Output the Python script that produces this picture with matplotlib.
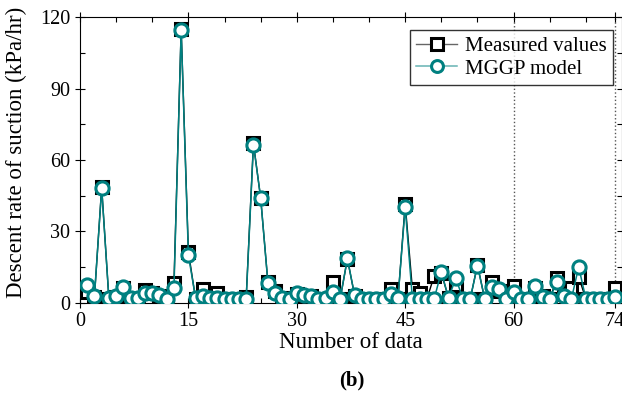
import matplotlib
matplotlib.use('Agg')
import matplotlib.pyplot as plt
from matplotlib.ticker import FixedLocator, MultipleLocator

plt.rcParams['font.family'] = ['Liberation Serif', 'DejaVu Serif']

# data number 1..74 (training 1-60, testing 61-74)
n_data = list(range(1, 75))

measured = [4.6, 2.5, 48.5, 1.5, 2.5, 6.0, 1.5, 1.5, 5.3, 4.0,
            3.0, 1.5, 8.1, 115.0, 21.4, 1.5, 5.6, 2.0, 4.0, 1.5,
            1.5, 1.5, 2.5, 67.0, 44.0, 8.6, 5.0, 2.0, 1.5, 3.5,
            3.0, 3.0, 1.5, 1.5, 8.8, 1.5, 18.5, 3.0, 1.5, 1.5,
            1.5, 1.5, 5.6, 1.5, 41.5, 5.6, 4.0, 1.5, 11.2, 12.5,
            2.0, 7.4, 1.5, 1.5, 16.0, 1.5, 8.8, 5.0, 1.5, 7.0,
            1.5, 1.5, 6.0, 3.0, 1.5, 10.2, 3.5, 6.0, 11.0, 1.5,
            1.5, 1.5, 1.5, 6.0]

mggp = [7.4, 2.8, 48.1, 1.8, 2.8, 6.5, 1.8, 1.8, 3.9, 3.9,
        3.2, 1.6, 6.0, 114.6, 20.0, 1.8, 3.0, 2.0, 2.0, 1.6,
        1.6, 1.6, 1.6, 66.5, 44.1, 8.4, 3.9, 2.1, 1.6, 3.9,
        3.1, 3.0, 1.6, 1.8, 4.6, 1.6, 18.6, 3.1, 1.7, 1.7,
        1.7, 1.7, 3.5, 1.8, 40.1, 1.5, 1.5, 1.5, 1.5, 13.0,
        2.0, 10.2, 1.7, 1.7, 15.6, 1.7, 6.5, 5.6, 1.7, 4.6,
        1.7, 1.7, 7.0, 2.5, 1.7, 8.8, 3.0, 1.5, 15.1, 1.7,
        1.7, 1.7, 1.7, 2.5]

split_lines = [60, 74]
xticks = [0, 15, 30, 45, 60, 74]
teal = '#008080'

fig = plt.figure(figsize=(6.22, 3.96), dpi=100)
ax = fig.add_axes([80 / 622, 93.3 / 396, 542 / 622, 285.4 / 396])

for xv in split_lines:
    ax.axvline(xv, color='#555555', linestyle=':', linewidth=1.0, zorder=1)

ax.plot(n_data, measured, color='black', linewidth=1.0, marker='s', markersize=9,
        markerfacecolor='white', markeredgecolor='black', markeredgewidth=2.2,
        label='Measured values', zorder=2)
ax.plot(n_data, mggp, color=teal, linewidth=1.1, marker='o', markersize=9.5,
        markerfacecolor='white', markeredgecolor=teal, markeredgewidth=2.2,
        label='MGGP model', zorder=3)

ax.set_xlim(0, 75)
ax.set_ylim(0, 120)
ax.xaxis.set_major_locator(FixedLocator(xticks))
ax.xaxis.set_minor_locator(FixedLocator([5, 10, 20, 25, 35, 40, 50, 55, 65, 70]))
ax.yaxis.set_major_locator(MultipleLocator(30))
ax.yaxis.set_minor_locator(MultipleLocator(15))
ax.tick_params(which='major', direction='inout', length=7, width=0.8,
               top=True, right=True, labelsize=14.5)
ax.tick_params(which='minor', direction='in', length=3.5, width=0.8,
               top=True, right=True)
ax.tick_params(axis='x', which='major', pad=3)

ax.set_xlabel('Number of data', fontsize=16.5, labelpad=1)
ax.set_ylabel('Descent rate of suction (kPa/hr)', fontsize=16.5)
ax.yaxis.set_label_coords(-0.097, 0.525)

leg = ax.legend(loc='upper right', bbox_to_anchor=(0.983, 0.955), borderaxespad=0,
                fontsize=15, frameon=True, fancybox=False, edgecolor='black',
                handlelength=2.0, handletextpad=0.35, borderpad=0.3,
                labelspacing=0.15, markerscale=0.9)
leg.get_frame().set_linewidth(1.0)
leg.get_lines()[0].set_color('#666666')
leg.get_lines()[1].set_color('#66b3b3')

fig.text(352 / 622, 1 - 380 / 396, '(b)', fontsize=15, fontweight='bold',
         ha='center', va='center')

fig.savefig('out.png', dpi=100)
